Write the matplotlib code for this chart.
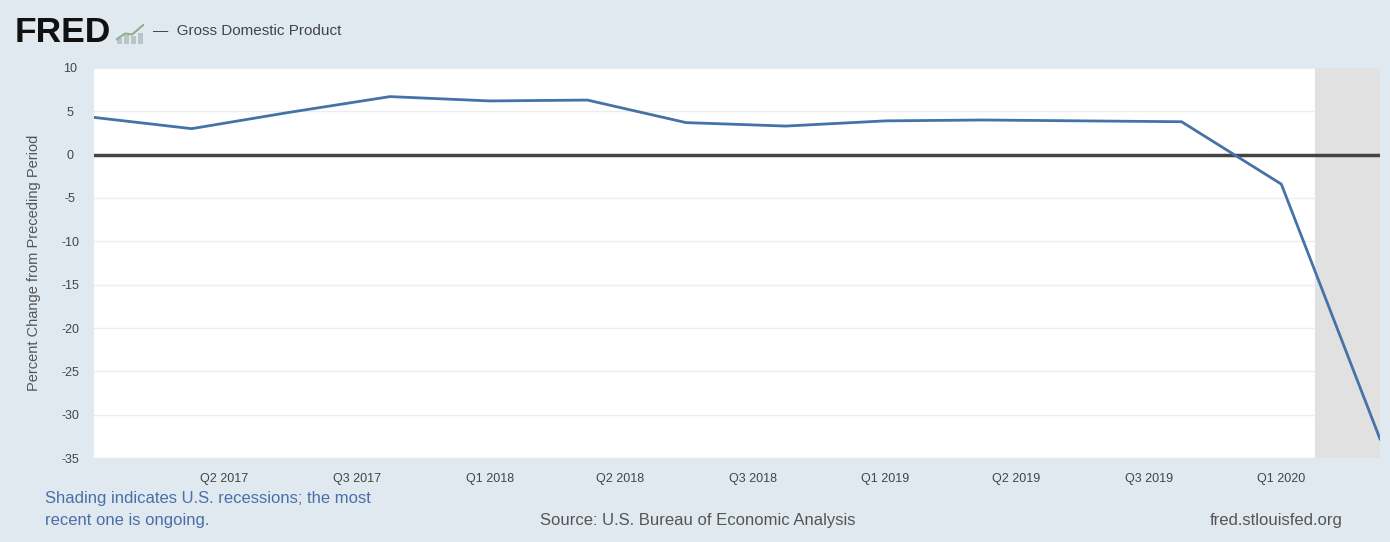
import pandas as pd
import matplotlib.pyplot as plt

plt.rcParams['font.family'] = ['Liberation Sans', 'DejaVu Sans']

# %% data
quarters = pd.date_range('2017-01-01', periods=14, freq='QS')
gdp_change = [4.3, 3.0, 4.9, 6.7, 6.2, 6.3, 3.7, 3.3, 3.9, 4.0, 3.9, 3.8,
              -3.4, -32.8]
tick_dates = pd.to_datetime(['2017-05-01', '2017-09-01', '2018-01-01',
                             '2018-05-01', '2018-09-01', '2019-01-01',
                             '2019-05-01', '2019-09-01', '2020-01-01'])
tick_labels = ['Q2 2017', 'Q3 2017', 'Q1 2018', 'Q2 2018', 'Q3 2018',
               'Q1 2019', 'Q2 2019', 'Q3 2019', 'Q1 2020']
y_ticks = [10, 5, 0, -5, -10, -15, -20, -25, -30, -35]
recession_start = pd.Timestamp('2020-02-01')

BG = '#e1e9f0'
W, H = 1390, 542

# %% figure
fig = plt.figure(figsize=(W / 100, H / 100), dpi=100, facecolor=BG)
ax = fig.add_axes([94 / W, (H - 458) / H, (1380 - 94) / W, 390 / H])
ax.set_facecolor('white')

ax.axvspan(recession_start, quarters[-1], color='#e1e1e1', lw=0, zorder=1)
for y in y_ticks:
    ax.axhline(y, color='#ececec', lw=1, zorder=0)
ax.axhline(0, color='#444444', lw=2.5, zorder=2)
ax.plot(quarters, gdp_change, color='#4572a7', lw=2, zorder=3)

ax.set_xlim(quarters[0], quarters[-1])
ax.set_ylim(-35, 10)
ax.set_yticks(y_ticks)
ax.set_yticklabels([str(v) for v in y_ticks], ha='center')
ax.set_xticks(tick_dates)
ax.set_xticklabels(tick_labels)
ax.tick_params(axis='both', length=0, labelsize=9, labelcolor='#444444')
ax.tick_params(axis='y', pad=17)
ax.tick_params(axis='x', pad=11)
for s in ax.spines.values():
    s.set_visible(False)
ax.set_ylabel('Percent Change from Preceding Period', fontsize=10.5,
              color='#555555', labelpad=15)

# %% header
fig.text(15 / W, 1 - 33 / H, 'FRED', fontsize=25.5, fontweight='bold',
         color='#111111', va='center', ha='left')
icon = fig.add_axes([116 / W, 1 - 44 / H, 28 / W, 20 / H])
icon.bar([0, 1, 2, 3], [0.3, 0.45, 0.4, 0.6], color='#b8c4c8', width=0.7)
icon.plot([-0.4, 0.8, 1.8, 3.4], [0.25, 0.55, 0.5, 1.0], color='#8fb08f',
          lw=1.5)
icon.set_xlim(-0.5, 3.5)
icon.set_ylim(0, 1.05)
icon.axis('off')
fig.text(153 / W, 1 - 31 / H, '\u2014  Gross Domestic Product', fontsize=11,
         color='#444444', va='center', ha='left')

# %% footer
fig.text(45 / W, 1 - 498 / H, 'Shading indicates U.S. recessions; the most',
         fontsize=12, color='#4a6fa8', va='center', ha='left')
fig.text(45 / W, 1 - 520 / H, 'recent one is ongoing.', fontsize=12,
         color='#4a6fa8', va='center', ha='left')
fig.text(540 / W, 1 - 520 / H, 'Source: U.S. Bureau of Economic Analysis',
         fontsize=12, color='#555555', va='center', ha='left')
fig.text(1343 / W, 1 - 520 / H, 'fred.stlouisfed.org', fontsize=12,
         color='#555555', va='center', ha='right')

fig.savefig('out.png', dpi=100, facecolor=BG)
